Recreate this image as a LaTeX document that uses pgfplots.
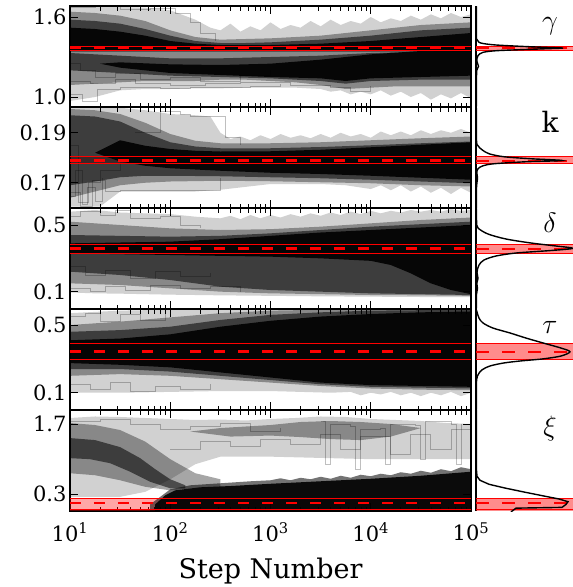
\documentclass[border=0pt]{standalone}
\usepackage{fix-cm}
\usepackage{fontspec}
\setmainfont{DejaVu Serif}
\usepackage{pgfplots}
\pgfplotsset{compat=1.18}

\pgfplotsset{
  trace/.style={scale only axis, width=401pt, height=101pt, xmin=1, xmax=5,
    anchor=north west, axis line style={line width=1.1pt}, tick align=inside,
    xtick={1,2,3,4,5}, xticklabels={},
    minor xtick={1.301,1.477,1.602,1.699,1.778,1.845,1.903,1.954,
                 2.301,2.477,2.602,2.699,2.778,2.845,2.903,2.954,
                 3.301,3.477,3.602,3.699,3.778,3.845,3.903,3.954,
                 4.301,4.477,4.602,4.699,4.778,4.845,4.903,4.954},
    major tick length=8pt, minor tick length=4.5pt,
    tick style={black, line width=0.9pt},
    yticklabel style={font=\fontsize{21}{24}\selectfont}},
  dens/.style={scale only axis, width=100pt, height=101pt, xmin=0, xmax=1,
    anchor=north west, axis x line=none, axis y line=left,
    axis line style={-, line width=1.1pt}, ytick=\empty},
  lA/.style={draw=none, fill=black, fill opacity=0.18},
  lB/.style={draw=none, fill=black, fill opacity=0.35},
  lC/.style={draw=none, fill=black, fill opacity=0.55},
  lD/.style={draw=none, fill=black, fill opacity=0.9},
  walk/.style={const plot, black, draw opacity=0.25, line width=0.8pt},
  bfill/.style={draw=none, fill=red, fill opacity=0.35},
  bedge/.style={red, line width=0.9pt},
  bmed/.style={red, line width=2.5pt, dash pattern=on 11pt off 13pt},
  dfill/.style={draw=none, fill=red, fill opacity=0.45},
  dmed/.style={red, line width=2pt, dash pattern=on 13pt off 13pt},
  dcurve/.style={black, line width=1.4pt},
}
\tikzset{lab/.style={font=\fontsize{28}{30}\selectfont}}
% red credible band: lower, median, upper
\newcommand{\bandfill}[2]{\addplot[bfill] coordinates {(1,#1)(5,#1)(5,#2)(1,#2)} --cycle;}
\newcommand{\bandlines}[3]{%
  \addplot[bedge] coordinates {(1,#1)(5,#1)};
  \addplot[bedge] coordinates {(1,#3)(5,#3)};
  \addplot[bmed] coordinates {(1,#2)(5,#2)};}
\newcommand{\dband}[3]{%
  \addplot[dfill] coordinates {(0,#1)(1,#1)(1,#3)(0,#3)} --cycle;
  \addplot[bedge] coordinates {(0,#1)(1,#1)};
  \addplot[bedge] coordinates {(0,#3)(1,#3)};
  \addplot[dmed] coordinates {(0,#2)(1,#2)};}

\begin{document}
\begin{tikzpicture}
\useasboundingbox (0,0) rectangle (573pt,-587pt);

% ---------------- gamma ----------------
\begin{axis}[trace, at={(70pt,-6pt)}, ymin=0.925, ymax=1.6825,
  ytick={1.0,1.6}, yticklabels={1.0,1.6}]
\bandfill{1.347}{1.382}
\addplot[lA] coordinates {(1,1.68)(1.25,1.68)(1.5,1.675)(1.75,1.67)(2.0,1.65)(2.25,1.58)(2.4,1.52)
  (2.5,1.50)(2.6,1.55)(2.7,1.49)(2.8,1.53)(2.9,1.50)(3.0,1.56)(3.1,1.51)(3.2,1.54)(3.3,1.52)(3.4,1.57)(3.5,1.53)(3.6,1.58)(3.7,1.54)(3.8,1.57)(3.9,1.55)(4.0,1.60)(4.1,1.56)(4.2,1.59)(4.3,1.57)(4.4,1.61)(4.5,1.58)(4.6,1.62)(4.7,1.59)(4.8,1.63)(4.9,1.60)(5,1.62)
  (5,0.99)(4.9,1.03)(4.8,0.99)(4.7,1.02)(4.6,0.98)(4.5,1.03)(4.4,1.0)(4.3,1.04)(4.2,1.01)(4.1,1.05)(4.0,1.02)(3.9,1.04)(3.8,1.02)(3.7,1.05)(3.6,1.04)(3.5,1.06)
  (3.25,1.07)(3.0,1.07)(2.75,1.07)(2.5,1.065)(2.25,1.065)(2.0,1.06)(1.75,1.06)(1.5,1.05)(1.25,1.0)(1,0.97)} --cycle;
\addplot[lB] coordinates {(1,1.64)(1.25,1.63)(1.5,1.61)(1.75,1.57)(2.0,1.50)(2.25,1.45)(2.5,1.43)(2.75,1.435)(3.0,1.44)(3.25,1.45)(3.5,1.46)(3.75,1.48)(4.0,1.50)(4.25,1.52)(4.5,1.54)(4.75,1.55)(5,1.56)
  (5,1.08)(4.75,1.08)(4.5,1.08)(4.25,1.08)(4.0,1.07)(3.75,1.06)(3.5,1.09)(3.25,1.11)(3.0,1.12)(2.75,1.13)(2.5,1.13)(2.25,1.12)(2.0,1.12)(1.75,1.12)(1.5,1.11)(1.25,1.10)(1,1.09)} --cycle;
\addplot[lC] coordinates {(1,1.58)(1.25,1.57)(1.5,1.55)(1.75,1.51)(2.0,1.46)(2.25,1.42)(2.5,1.405)(2.75,1.405)(3.0,1.41)(3.25,1.42)(3.5,1.43)(3.75,1.445)(4.0,1.46)(4.25,1.48)(4.5,1.50)(4.75,1.51)(5,1.52)
  (5,1.34)(1,1.34)} --cycle;
\addplot[lC] coordinates {(1,1.33)(1.5,1.31)(2.0,1.29)(2.5,1.29)(3.0,1.30)(3.5,1.31)(4.0,1.33)(4.5,1.34)(5,1.345)
  (5,1.13)(4.5,1.13)(4.0,1.12)(3.75,1.10)(3.5,1.12)(3.0,1.14)(2.5,1.15)(2.0,1.16)(1.5,1.18)(1,1.20)} --cycle;
\addplot[lD] coordinates {(1,1.52)(1.25,1.51)(1.5,1.49)(1.75,1.46)(2.0,1.42)(2.25,1.40)(2.5,1.39)(3.0,1.39)(3.5,1.40)(4.0,1.42)(4.5,1.45)(5,1.48)(5,1.35)(1,1.35)} --cycle;
\addplot[lD] coordinates {(1.3,1.25)(1.5,1.26)(2.0,1.245)(2.5,1.24)(3.0,1.25)(3.5,1.28)(4.0,1.32)(4.5,1.345)(5,1.345)
  (5,1.16)(4.5,1.15)(4.0,1.14)(3.75,1.12)(3.5,1.14)(3.0,1.15)(2.5,1.165)(2.0,1.18)(1.5,1.22)} --cycle;
\addplot[walk] coordinates {(1,1.02)(1.12,0.97)(1.27,1.06)(1.5,1.07)(1.9,1.065)(2.2,1.075)(2.5,1.07)(2.8,1.08)(3.1,1.1)};
\addplot[walk] coordinates {(1,1.67)(1.25,1.68)(1.5,1.655)(1.8,1.665)(2.05,1.63)(2.2,1.56)(2.3,1.48)(2.45,1.42)};
\addplot[walk] coordinates {(1,1.25)(1.1,1.2)(1.25,1.15)(1.45,1.18)(1.7,1.13)(2.0,1.15)(2.3,1.12)(2.7,1.16)(3.0,1.2)};
\addplot[walk] coordinates {(1,1.12)(1.2,1.1)(1.45,1.13)(1.65,1.1)(2.0,1.09)(2.35,1.1)(2.7,1.11)(3.2,1.09)(3.6,1.07)(3.8,1.04)(4.0,1.08)};
\bandlines{1.347}{1.366}{1.382}
\end{axis}
\begin{axis}[dens, at={(476pt,-6pt)}, ymin=0.925, ymax=1.6825]
\dband{1.347}{1.366}{1.382}
\addplot[dcurve, smooth] coordinates {(0.004,1.68)(0.004,1.46)(0.01,1.43)(0.03,1.41)(0.08,1.40)(0.2,1.39)(0.45,1.38)(0.7,1.372)(0.87,1.367)(0.7,1.362)(0.45,1.355)(0.2,1.347)(0.07,1.335)(0.02,1.31)(0.008,1.27)(0.025,1.23)(0.008,1.2)(0.004,1.1)(0.004,0.93)};
\node[lab] at (rel axis cs:0.74,0.80) {$\gamma$};
\end{axis}

% ---------------- k ----------------
\begin{axis}[trace, at={(70pt,-107pt)}, ymin=0.1599, ymax=0.2003,
  ytick={0.17,0.19}, yticklabels={0.17,0.19}]
\bandfill{0.1776}{0.1805}
\addplot[lA] coordinates {(1,0.2)(1.5,0.2)(1.75,0.199)(2.0,0.1975)(2.25,0.197)(2.4,0.1965)(2.5,0.19)(2.6,0.1875)
  (2.7,0.1885)(2.8,0.187)(2.9,0.189)(3.0,0.1875)(3.1,0.1895)(3.2,0.188)(3.3,0.189)(3.4,0.1878)(3.5,0.1895)(3.6,0.188)(3.7,0.19)(3.8,0.1885)(3.9,0.1895)(4.0,0.188)(4.1,0.1905)(4.2,0.189)(4.3,0.1905)(4.4,0.189)(4.5,0.191)(4.6,0.1895)(4.7,0.191)(4.8,0.19)(4.9,0.1915)(5,0.19)
  (5,0.166)(4.9,0.168)(4.8,0.1655)(4.7,0.168)(4.6,0.166)(4.5,0.1685)(4.4,0.1665)(4.3,0.169)(4.2,0.167)(4.1,0.169)(4.0,0.1675)(3.75,0.169)(3.5,0.1695)(3.0,0.1695)(2.5,0.1672)(2.25,0.1665)(2.0,0.1665)(1.5,0.1665)(1.3,0.1605)(1,0.1605)} --cycle;
\addplot[lB] coordinates {(1,0.1995)(1.25,0.199)(1.5,0.1975)(1.75,0.194)(2.0,0.1895)(2.25,0.1868)(2.5,0.1858)(3.0,0.1858)(3.5,0.1862)(4.0,0.187)(4.5,0.1878)(5,0.1885)
  (5,0.1685)(4.5,0.169)(4.0,0.1698)(3.5,0.1702)(3.0,0.1706)(2.5,0.1708)(2.0,0.1705)(1.75,0.170)(1.5,0.169)(1.25,0.1665)(1,0.164)} --cycle;
\addplot[lC] coordinates {(1,0.197)(1.25,0.1965)(1.5,0.1945)(1.75,0.190)(2.0,0.1862)(2.25,0.1845)(2.5,0.1838)(3.0,0.1838)(3.5,0.1843)(4.0,0.185)(4.5,0.1858)(5,0.1865)
  (5,0.1698)(4.5,0.1705)(4.0,0.1712)(3.5,0.1718)(3.0,0.1722)(2.5,0.1726)(2.0,0.1728)(1.75,0.1728)(1.5,0.1722)(1.25,0.1705)(1,0.169)} --cycle;
\addplot[lD] coordinates {(1.5,0.187)(1.75,0.1848)(2.0,0.1835)(2.25,0.1828)(2.5,0.1825)(3.0,0.1826)(3.5,0.1832)(4.0,0.1842)(4.5,0.1852)(5,0.1862)
  (5,0.1712)(4.5,0.172)(4.0,0.1728)(3.5,0.1735)(3.0,0.174)(2.5,0.1748)(2.0,0.1758)(1.75,0.1768)(1.5,0.1785)(1.25,0.182)} --cycle;
\addplot[walk] coordinates {(1,0.166)(1.1,0.1605)(1.2,0.1605)(1.22,0.171)(1.35,0.1665)(1.5,0.1668)(1.8,0.1668)(2.1,0.1668)(2.45,0.1668)(2.5,0.172)};
\addplot[walk] coordinates {(1.65,0.19)(1.9,0.1985)(2.1,0.1975)(2.2,0.1965)(2.45,0.1965)(2.55,0.188)(2.7,0.185)};
\addplot[walk] coordinates {(1,0.185)(1.08,0.162)(1.18,0.17)(1.3,0.175)(1.5,0.178)(1.8,0.177)};
\addplot[walk] coordinates {(1,0.1645)(1.05,0.175)(1.12,0.1615)(1.17,0.168)(1.25,0.1625)(1.32,0.172)};
\bandlines{0.1776}{0.1789}{0.1805}
\end{axis}
\begin{axis}[dens, at={(476pt,-107pt)}, ymin=0.1599, ymax=0.2003]
\dband{0.1776}{0.1789}{0.1805}
\addplot[dcurve, smooth] coordinates {(0.004,0.2)(0.005,0.187)(0.02,0.1848)(0.06,0.1832)(0.13,0.1816)(0.28,0.1804)(0.55,0.1796)(0.86,0.1789)(0.5,0.1784)(0.18,0.1776)(0.07,0.1768)(0.02,0.1756)(0.008,0.174)(0.015,0.172)(0.005,0.168)(0.004,0.16)};
\node[lab] at (rel axis cs:0.74,0.85) {$\mathrm{k}$};
\end{axis}

% ---------------- delta ----------------
\begin{axis}[trace, at={(70pt,-208pt)}, ymin=-0.004, ymax=0.602,
  ytick={0.1,0.5}, yticklabels={0.1,0.5}]
\bandfill{0.328}{0.384}
\addplot[lA] coordinates {(1,0.58)(1.25,0.59)(1.5,0.575)(1.75,0.57)(2.0,0.565)(2.25,0.55)(2.5,0.54)
  (2.6,0.555)(2.7,0.535)(2.8,0.56)(2.9,0.54)(3.0,0.56)(3.1,0.545)(3.2,0.565)(3.3,0.55)(3.4,0.57)(3.5,0.555)(3.6,0.575)(3.7,0.56)(3.8,0.58)(3.9,0.565)(4.0,0.585)(4.1,0.57)(4.2,0.585)(4.3,0.575)(4.4,0.59)(4.5,0.58)(4.6,0.59)(4.7,0.58)(4.8,0.595)(4.9,0.585)(5,0.59)
  (5,0.068)(4.5,0.068)(4.0,0.07)(3.5,0.072)(3.0,0.075)(2.5,0.078)(2.0,0.082)(1.5,0.088)(1.25,0.09)(1,0.095)} --cycle;
\addplot[lB] coordinates {(1,0.52)(1.5,0.50)(2.0,0.48)(2.5,0.47)(3.0,0.475)(3.5,0.49)(4.0,0.51)(4.5,0.53)(5,0.545)
  (5,0.075)(4.5,0.078)(4.0,0.08)(3.5,0.085)(3.0,0.09)(2.5,0.10)(2.0,0.12)(1.5,0.14)(1,0.15)} --cycle;
\addplot[lC] coordinates {(1,0.44)(1.5,0.435)(2.0,0.43)(2.5,0.435)(3.0,0.45)(3.5,0.47)(4.0,0.49)(4.5,0.505)(5,0.52)
  (5,0.08)(4.5,0.085)(4.0,0.09)(3.5,0.10)(3.0,0.11)(2.5,0.13)(2.0,0.17)(1.5,0.20)(1,0.22)} --cycle;
\addplot[lD] coordinates {(1,0.39)(1.5,0.395)(2.0,0.40)(2.5,0.415)(3.0,0.435)(3.5,0.455)(4.0,0.47)(4.5,0.485)(5,0.50)
  (5,0.085)(4.8,0.11)(4.6,0.15)(4.4,0.21)(4.2,0.26)(4.0,0.285)(3.5,0.30)(3.0,0.31)(2.5,0.315)(2.0,0.32)(1.5,0.325)(1,0.33)} --cycle;
\addplot[walk] coordinates {(1,0.55)(1.1,0.58)(1.3,0.56)(1.45,0.585)(1.6,0.54)(1.9,0.55)(2.1,0.5)(2.3,0.48)};
\addplot[walk] coordinates {(1,0.12)(1.2,0.1)(1.35,0.13)(1.55,0.11)(1.8,0.14)(2.1,0.12)(2.4,0.13)(2.7,0.1)};
\addplot[walk] coordinates {(1,0.25)(1.15,0.2)(1.35,0.23)(1.6,0.18)(1.85,0.22)(2.1,0.19)(2.4,0.21)};
\bandlines{0.328}{0.358}{0.384}
\end{axis}
\begin{axis}[dens, at={(476pt,-208pt)}, ymin=-0.004, ymax=0.602]
\dband{0.328}{0.358}{0.384}
\addplot[dcurve, smooth] coordinates {(0.004,0.6)(0.006,0.52)(0.02,0.482)(0.12,0.446)(0.3,0.416)(0.55,0.392)(0.8,0.374)(0.97,0.36)(0.75,0.347)(0.4,0.332)(0.2,0.314)(0.08,0.29)(0.03,0.26)(0.01,0.218)(0.02,0.18)(0.008,0.15)(0.015,0.12)(0.004,0.08)(0.004,0.0)};
\node[lab] at (rel axis cs:0.74,0.85) {$\delta$};
\end{axis}

% ---------------- tau ----------------
\begin{axis}[trace, at={(70pt,-309pt)}, ymin=-0.002, ymax=0.5946,
  ytick={0.1,0.5}, yticklabels={0.1,0.5}]
\bandfill{0.298}{0.392}
\addplot[lA] coordinates {(1,0.57)(1.5,0.585)(2.0,0.59)(5,0.59)
  (5,0.10)(4.9,0.08)(4.8,0.105)(4.7,0.085)(4.6,0.10)(4.5,0.08)(4.4,0.10)(4.3,0.085)(4.2,0.105)(4.1,0.09)(4.0,0.10)(3.9,0.085)(3.8,0.105)(3.6,0.10)(3.3,0.105)(3.0,0.11)(2.5,0.11)(2.0,0.105)(1.5,0.10)(1,0.10)} --cycle;
\addplot[lB] coordinates {(1,0.50)(1.5,0.52)(2.0,0.545)(2.5,0.57)(3.0,0.585)(3.5,0.59)(5,0.592)
  (5,0.115)(4.5,0.118)(4.0,0.125)(3.5,0.14)(3.0,0.16)(2.5,0.18)(2.0,0.20)(1.5,0.21)(1,0.20)} --cycle;
\addplot[lC] coordinates {(1,0.46)(1.5,0.47)(2.0,0.49)(2.5,0.53)(3.0,0.56)(3.5,0.575)(4.0,0.585)(5,0.59)
  (5,0.125)(4.5,0.13)(4.0,0.135)(3.5,0.15)(3.0,0.175)(2.5,0.20)(2.0,0.225)(1.5,0.24)(1,0.24)} --cycle;
\addplot[lD] coordinates {(1,0.41)(1.5,0.42)(2.0,0.445)(2.5,0.49)(3.0,0.525)(3.5,0.55)(4.0,0.565)(4.5,0.575)(5,0.58)
  (5,0.135)(4.5,0.14)(4.0,0.145)(3.5,0.16)(3.0,0.19)(2.5,0.22)(2.0,0.25)(1.5,0.265)(1,0.275)} --cycle;
\addplot[walk] coordinates {(1,0.55)(1.15,0.57)(1.3,0.52)(1.5,0.56)(1.7,0.53)(1.95,0.57)};
\addplot[walk] coordinates {(1,0.15)(1.2,0.12)(1.4,0.16)(1.6,0.11)(1.85,0.14)(2.1,0.12)(2.4,0.15)};
\bandlines{0.298}{0.3425}{0.392}
\end{axis}
\begin{axis}[dens, at={(476pt,-309pt)}, ymin=-0.002, ymax=0.5946]
\dband{0.298}{0.3425}{0.392}
\addplot[dcurve, smooth] coordinates {(0.004,0.59)(0.01,0.577)(0.03,0.541)(0.07,0.512)(0.17,0.482)(0.34,0.453)(0.5,0.423)(0.67,0.394)(0.85,0.364)(0.94,0.342)(0.85,0.317)(0.67,0.3)(0.45,0.288)(0.28,0.276)(0.14,0.258)(0.06,0.235)(0.015,0.2)(0.004,0.15)(0.004,0.0)};
\node[lab] at (rel axis cs:0.74,0.82) {$\tau$};
\end{axis}

% ---------------- xi ----------------
\begin{axis}[trace, at={(70pt,-410pt)}, ymin=-0.032, ymax=1.979,
  ytick={0.3,1.7}, yticklabels={0.3,1.7},
  xticklabels={10\textsuperscript{1},10\textsuperscript{2},10\textsuperscript{3},10\textsuperscript{4},10\textsuperscript{5}},
  xticklabel style={font=\fontsize{21}{24}\selectfont, yshift=-8pt}]
\bandfill{-0.04}{0.226}
\addplot[lA] coordinates {(1,1.82)(1.25,1.85)(1.5,1.84)(1.75,1.82)(2.0,1.80)(2.25,1.78)(2.5,1.79)(2.75,1.77)(3.0,1.80)(3.25,1.82)(3.5,1.85)(3.75,1.84)(4.0,1.80)(4.25,1.78)(4.5,1.76)(4.75,1.72)(5,1.70)
  (5,1.0)(4.0,1.0)(3.0,1.05)(2.5,1.05)(2.25,0.9)(2.0,0.6)(1.75,0.35)(1.5,0.25)(1,0.25)} --cycle;
\addplot[lB] coordinates {(2.2,1.55)(2.5,1.62)(3.0,1.68)(3.3,1.74)(3.6,1.76)(3.9,1.74)(4.2,1.70)(4.5,1.62)(4.2,1.45)(3.9,1.38)(3.6,1.40)(3.3,1.44)(3.0,1.47)(2.6,1.45)} --cycle;
\addplot[lB] coordinates {(1,1.72)(1.25,1.68)(1.5,1.58)(1.75,1.35)(2.0,1.0)(2.25,0.72)(2.5,0.6)(2.5,0.45)(2.25,0.42)(2.0,0.38)(1.75,0.45)(1.5,0.58)(1.25,0.68)(1,0.72)} --cycle;
\addplot[lC] coordinates {(1,1.42)(1.25,1.38)(1.5,1.24)(1.7,1.02)(1.85,0.8)(2.0,0.6)(2.15,0.48)(2.15,0.42)(2.0,0.42)(1.8,0.55)(1.6,0.75)(1.4,0.92)(1.2,1.0)(1,1.02)} --cycle;
\addplot[lC] coordinates {(1.8,-0.04)(1.8,0.1)(1.9,0.25)(2.0,0.4)(2.2,0.48)(2.5,0.52)(2.8,0.56)(3.0,0.58)(3.1,0.62)(3.2,0.58)(3.3,0.63)(3.4,0.60)(3.5,0.65)(3.6,0.61)(3.7,0.67)(3.8,0.63)(3.9,0.69)(4.0,0.66)(4.1,0.71)(4.2,0.68)(4.3,0.74)(4.4,0.71)(4.5,0.77)(4.6,0.73)(4.7,0.80)(4.8,0.76)(4.9,0.84)(5,0.80)(5,-0.04)} --cycle;
\addplot[lD] coordinates {(1.85,-0.04)(1.85,0.1)(1.95,0.28)(2.05,0.38)(2.3,0.44)(2.6,0.465)(3.0,0.51)(3.5,0.56)(4.0,0.61)(4.5,0.67)(5,0.75)(5,-0.04)} --cycle;
\addplot[walk] coordinates {(2.0,1.2)(2.3,1.35)(2.6,1.25)(2.9,1.4)(3.2,1.3)(3.5,1.5)(3.7,1.2)(3.9,1.45)(4.2,1.1)(4.4,1.5)(4.6,1.2)(4.8,1.6)(5,1.0)};
\addplot[walk] coordinates {(1,1.75)(1.3,1.8)(1.6,1.7)(1.9,1.6)(2.2,1.65)(2.5,1.72)(2.8,1.55)(3.1,1.62)};
\addplot[walk] coordinates {(3.5,1.75)(3.55,0.9)(3.6,1.7)(3.8,1.65)(3.85,0.8)(3.9,1.6)(4.1,1.62)(4.15,0.9)(4.2,1.7)(4.45,1.68)(4.5,1.0)(4.55,1.75)(4.8,1.7)(4.85,0.9)(4.9,1.7)};
\bandlines{0.005}{0.127}{0.226}
\end{axis}
\begin{axis}[dens, at={(476pt,-410pt)}, ymin=-0.032, ymax=1.979]
\dband{0.005}{0.127}{0.226}
\addplot[dfill] coordinates {(0,-0.04)(1,-0.04)(1,0.005)(0,0.005)} --cycle;
\addplot[dcurve] coordinates {(0.004,1.98)(0.004,0.8)(0.01,0.66)(0.04,0.58)(0.13,0.5)(0.29,0.425)(0.48,0.346)(0.68,0.266)(0.83,0.207)(0.92,0.153)(0.9,0.1)(0.86,0.04)(0.4,0.025)(0.35,-0.05)};
\node[lab] at (rel axis cs:0.74,0.82) {$\xi$};
\end{axis}

\node[font=\fontsize{27}{30}\selectfont, anchor=base] at (270.5pt,-578pt) {Step Number};
\end{tikzpicture}
\end{document}
